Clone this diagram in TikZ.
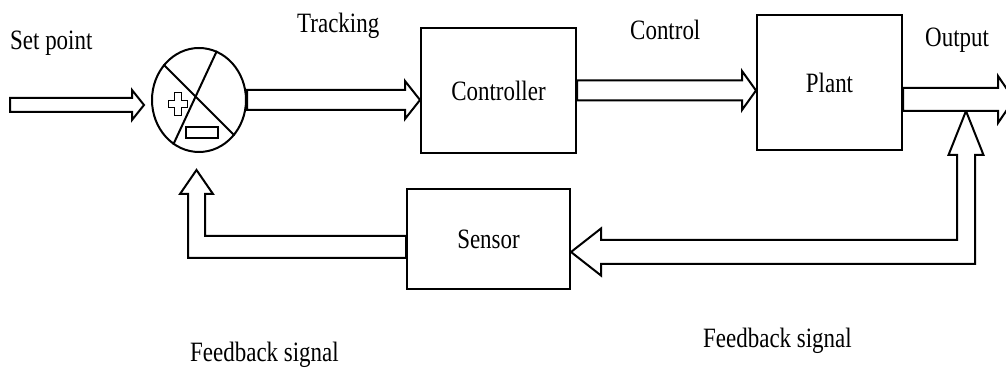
\documentclass[tikz,border=0pt]{standalone}
\usepackage{fontspec}
\setmainfont{Liberation Serif}[FakeStretch=0.82]
\usepackage{tikz}
\usetikzlibrary{positioning,shapes.geometric,calc}

% hollow block arrow: tail, tip, body half width, head half width, head length
\newcommand{\blockarrow}[5]{%
  \draw[pipe] let \p1=(#1), \p2=(#2) in
    (\x1,{\y2+#3pt}) -- ({\x2-#5pt},{\y2+#3pt}) -- ({\x2-#5pt},{\y2+#4pt}) -- (\p2)
    -- ({\x2-#5pt},{\y2-#4pt}) -- ({\x2-#5pt},{\y2-#3pt}) -- (\x1,{\y2-#3pt}) -- cycle;
}

\begin{document}
\begin{tikzpicture}[
      x=1pt, y=1pt,
      every node/.style={font=\fontsize{28}{32}\selectfont},
      block/.style={
        rectangle,
        draw=black,
        line width=2pt,
      },
      pipe/.style={
        draw=black,
        fill=white,
        line width=2pt,
        line join=miter,
      },
      lbl/.style={anchor=base west, inner sep=0},
      ]
      \useasboundingbox (0,0) rectangle (1006,371);
      % blocks
      \node[draw, ellipse, line width=2pt, minimum width=94, minimum height=104, inner sep=0] (sum) at (199,271) {};
      \node[block, minimum width=155, minimum height=125] (ctrl) at (498.5,280.5) {Controller};
      \node[block, minimum width=145, minimum height=135] (plant) at (829.5,288.5) {Plant};
      \node[block, minimum width=163, minimum height=100] (sens) at (488.5,132) {Sensor};
      % summing junction
      \draw[line width=2pt] (sum.135) -- (sum.-45);
      \draw[line width=2pt] (sum.70) -- (sum.240);
      \draw[line width=1.6pt] ($(sum.center)+(-30.5,-7.5)$) -- ++(6,0) -- ++(0,-8) -- ++(7,0) -- ++(0,8)
        -- ++(6,0) -- ++(0,7) -- ++(-6,0) -- ++(0,8) -- ++(-7,0) -- ++(0,-8) -- ++(-6,0) -- cycle;
      \draw[line width=1.6pt] ($(sum.center)+(-13,-38)$) rectangle ($(sum.center)+(19,-27)$);
      % labels
      \node[lbl] (lsp) at (10,321) {Set point};
      \node[lbl] (ltr) at (297,338) {Tracking};
      \node[lbl] (lco) at (630,331) {Control};
      \node[lbl] (lou) at (925,324) {Output};
      \node[lbl] (lfb1) at (190,9) {Feedback signal};
      \node[lbl] (lfb2) at (703,23) {Feedback signal};
      % forward path
      \coordinate (sp) at (10,266);
      \coordinate (yout) at (1014,271.5);
      \coordinate (tap) at (966,260);
      \coordinate (fbtip) at ($(sens.east)+(0,-13)$);
      \coordinate (fbsum) at ($(sum.south)+(-2.5,-17)$);
      \blockarrow{sp}{$(sum.west)+(-7,-5)$}{7}{15}{12}
      \blockarrow{sum.east}{ctrl.west |- sum.east}{10}{19}{15}
      \blockarrow{ctrl.east}{plant.west |- ctrl.east}{10}{19.5}{14}
      % feedback path
      \draw[pipe] let \p1=(tap), \p2=(fbtip) in
        (\p1) -- ({\x1+17.5pt},{\y1-44pt}) -- ({\x1+9pt},{\y1-44pt}) -- ({\x1+9pt},{\y2-12pt})
        -- ({\x2+30pt},{\y2-12pt}) -- ({\x2+30pt},{\y2-23.5pt}) -- (\p2)
        -- ({\x2+30pt},{\y2+23.5pt}) -- ({\x2+30pt},{\y2+12pt}) -- ({\x1-9pt},{\y2+12pt})
        -- ({\x1-9pt},{\y1-44pt}) -- ({\x1-17.5pt},{\y1-44pt}) -- cycle;
      \draw[pipe] let \p1=($(sens.west)+(0,-8)$), \p2=(fbsum) in
        (\p2) -- ({\x2+16.5pt},{\y2-24pt}) -- ({\x2+8.5pt},{\y2-24pt}) -- ({\x2+8.5pt},{\y1+11pt})
        -- (\x1,{\y1+11pt}) -- (\x1,{\y1-11pt}) -- ({\x2-8.5pt},{\y1-11pt})
        -- ({\x2-8.5pt},{\y2-24pt}) -- ({\x2-16.5pt},{\y2-24pt}) -- cycle;
      \blockarrow{plant.east |- yout}{yout}{11.5}{23.5}{16}
    \end{tikzpicture}
\end{document}
